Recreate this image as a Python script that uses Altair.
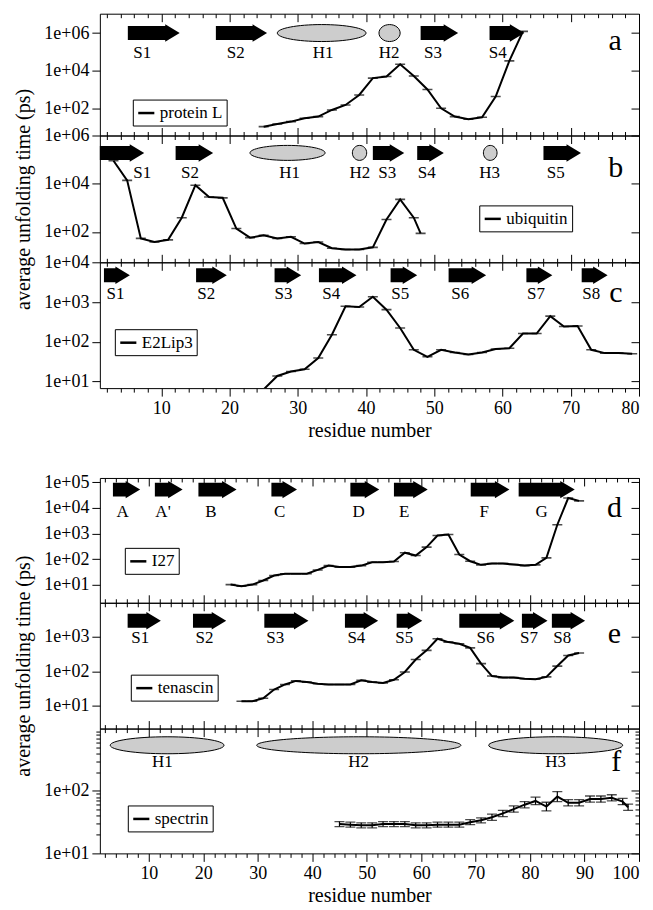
import altair as alt
import pandas as pd

FONT = "Liberation Serif"
W = 540

# ---------------- series data (residue number, average unfolding time in ps) ----------------
protL_x = [25, 27, 29, 31, 33, 35, 37, 39, 41, 43, 45, 47, 49, 51, 53, 55, 57, 59, 61, 63]
protL_y = [10.5, 14.5, 19.5, 29.5, 36, 81, 150, 510, 4000, 4900, 22000, 5200, 1000, 100,
           36, 26, 33, 420, 33000, 1230000]

ubq_x = [3, 5, 7, 9, 11, 13, 15, 17, 19, 21, 23, 25, 27, 29, 31, 33, 35, 37, 39, 41, 43, 45, 47, 48]
ubq_y = [90000, 13800, 54, 38, 47, 390, 8700, 2800, 2600, 138, 58, 72, 54, 63, 33, 38, 21,
         18.6, 18.6, 23, 330, 2240, 390, 87]

e2_x = [25, 27, 29, 31, 33, 35, 37, 39, 41, 43, 45, 47, 49, 51, 53, 55, 57, 59, 61, 63, 65,
        67, 69, 71, 73, 75, 77, 79]
e2_y = [6.3, 13.8, 17.8, 20.4, 39, 151, 790, 760, 1380, 650, 224, 63, 42, 63, 54, 48, 54, 66,
        69, 162, 162, 447, 245, 251, 63, 52, 52, 50]

i27_x = [25, 27, 29, 31, 33, 35, 37, 39, 41, 43, 45, 47, 49, 51, 53, 55, 57, 59, 61, 63, 65,
         67, 69, 71, 73, 75, 77, 79, 81, 83, 85, 87, 89]
i27_y = [10.2, 8.9, 10.2, 14.8, 23, 27, 27, 27, 38, 56, 49, 49, 56, 76, 76, 81, 178, 138, 295,
         830, 910, 151, 83, 60, 68, 68, 62, 56, 60, 112, 2190, 24000, 18600]

ten_x = [27, 29, 31, 33, 35, 37, 39, 41, 43, 45, 47, 49, 51, 53, 55, 57, 59, 61, 63, 65, 67,
         69, 71, 73, 75, 77, 79, 81, 83, 85, 87, 89]
ten_y = [13.2, 13.2, 16.2, 29, 41, 52, 48, 43, 41, 41, 41, 54, 48, 45, 56, 95, 219, 407, 891,
         708, 631, 479, 166, 72, 65, 65, 60, 58, 68, 141, 288, 339]

spec_x = [45, 47, 49, 51, 53, 55, 57, 59, 61, 63, 65, 67, 69, 71, 73, 75, 77, 79, 81, 83, 85,
          87, 89, 91, 93, 95, 97, 98]
spec_y = [29.5, 28.8, 28.2, 28.2, 29.5, 29.5, 29.5, 28.2, 28.2, 28.8, 28.8, 28.8, 31.6, 33.9,
          38, 43.7, 51.3, 60.3, 69.2, 56.2, 81.3, 64.6, 64.6, 74.1, 74.1, 77.6, 67.6, 55]
# half width of the spectrin error bars, in decades
spec_err = [0.04, 0.04, 0.04, 0.04, 0.04, 0.04, 0.04, 0.04, 0.04, 0.04, 0.04, 0.04, 0.04, 0.04,
            0.05, 0.05, 0.05, 0.05, 0.06, 0.07, 0.08, 0.05, 0.05, 0.05, 0.05, 0.05, 0.05, 0.05]

# ---------------- secondary structure (residue ranges) ----------------
a_ss_kind = ["arrow", "arrow", "helix", "helix", "arrow", "arrow"]
a_ss_name = ["S1", "S2", "H1", "H2", "S3", "S4"]
a_ss_start = [5.1, 18.0, 27.0, 41.9, 48.0, 58.1]
a_ss_end = [12.7, 25.5, 40.0, 45.0, 53.5, 63.2]
a_ss_label = [7.2, 20.9, 33.7, 43.4, 49.8, 59.3]

b_ss_kind = ["arrow", "arrow", "helix", "helix", "arrow", "arrow", "helix", "arrow"]
b_ss_name = ["S1", "S2", "H1", "H2", "S3", "S4", "H3", "S5"]
b_ss_start = [1.0, 12.1, 23.0, 38.0, 41.0, 47.5, 57.2, 66.0]
b_ss_end = [7.5, 17.6, 34.0, 40.1, 45.6, 51.4, 59.2, 71.5]
b_ss_label = [7.2, 14.2, 28.8, 39.1, 43.1, 48.9, 58.1, 67.8]

c_ss_kind = ["arrow"] * 8
c_ss_name = ["S1", "S2", "S3", "S4", "S5", "S6", "S7", "S8"]
c_ss_start = [1.6, 15.1, 26.6, 33.1, 43.6, 52.1, 63.5, 71.6]
c_ss_end = [5.4, 19.6, 30.5, 38.6, 47.5, 57.6, 67.3, 75.4]
c_ss_label = [3.3, 16.6, 27.9, 34.9, 45.0, 53.8, 64.9, 73.0]

d_ss_kind = ["arrow"] * 8
d_ss_name = ["A", "A'", "B", "C", "D", "E", "F", "G"]
d_ss_start = [3.4, 11.1, 19.1, 32.5, 47.0, 55.0, 69.1, 77.9]
d_ss_end = [8.4, 16.2, 26.1, 37.2, 52.3, 61.2, 76.2, 88.2]
d_ss_label = [5.2, 12.6, 21.4, 34.0, 48.5, 56.9, 71.6, 82.1]

e_ss_kind = ["arrow"] * 8
e_ss_name = ["S1", "S2", "S3", "S4", "S5", "S6", "S7", "S8"]
e_ss_start = [6.1, 18.1, 31.2, 46.0, 55.5, 67.0, 78.5, 84.0]
e_ss_end = [12.2, 24.2, 39.3, 52.1, 60.2, 77.1, 83.2, 90.1]
e_ss_label = [8.4, 20.2, 33.2, 48.1, 56.9, 71.8, 79.8, 85.9]

f_ss_kind = ["helix", "helix", "helix"]
f_ss_name = ["H1", "H2", "H3"]
f_ss_start = [2.9, 29.8, 72.4]
f_ss_end = [23.8, 67.3, 97.0]
f_ss_label = [12.5, 48.5, 84.7]

series_names = ["protein L", "ubiquitin", "E2Lip3", "I27", "tenascin", "spectrin"]
panel_letters = ["a", "b", "c", "d", "e", "f"]

top_major = [10, 20, 30, 40, 50, 60, 70, 80]
top_minor = [v for v in range(2, 81, 2) if v % 10]
bot_major = [10, 20, 30, 40, 50, 60, 70, 80, 90, 100]
bot_minor = [v for v in range(2, 101, 2) if v % 10]

LABEL_EXPR = "'1e+' + format(round(log(datum.value) / LN10), '02d')"
K = 0.5523


def arrow_path(wpx):
    u = wpx / 2.0
    b = 7.0 / u
    h = 8.75 / u
    hl = min(14.5 / u, 1.5)
    xs = 1 - hl
    return (f"M -1 {-b:.4f} L {xs:.4f} {-b:.4f} L {xs:.4f} {-h:.4f} L 1 0 "
            f"L {xs:.4f} {h:.4f} L {xs:.4f} {b:.4f} L -1 {b:.4f} Z")


def ellipse_path(wpx, hpx):
    u = wpx / 2.0
    r = (hpx / 2.0) / u
    k = K
    return (f"M -1 0 C -1 {-k*r:.4f} {-k:.4f} {-r:.4f} 0 {-r:.4f} "
            f"C {k:.4f} {-r:.4f} 1 {-k*r:.4f} 1 0 "
            f"C 1 {k*r:.4f} {k:.4f} {r:.4f} 0 {r:.4f} "
            f"C {-k:.4f} {r:.4f} -1 {k*r:.4f} -1 0 Z")


def ax(**kw):
    base = dict(grid=False, domain=False, tickColor="black", tickWidth=1,
                labelColor="black", labelFont=FONT, labelFontSize=18,
                titleFont=FONT, titleFontSize=20, titleColor="black",
                titleFontWeight="normal")
    base.update(kw)
    return alt.Axis(**base)


def make_panel(p):
    xsc = alt.Scale(domain=p["xdom"], nice=False, zero=False)
    ysc = alt.Scale(type="log", domain=p["ydom"], nice=False)
    ppu = W / (p["xdom"][1] - p["xdom"][0])
    df = pd.DataFrame({"x": p["x"], "y": p["y"], "series": p["name"]})
    major, minor = p["major"], p["minor"]

    def X(axis):
        return alt.X("x:Q", scale=xsc, axis=axis)

    def Y(axis, field="y:Q"):
        return alt.Y(field, scale=ysc, axis=axis)

    last = p["last"]
    xb_major = ax(orient="bottom", values=major, tickSize=8, labels=last, format="d",
                  labelPadding=3, title=("residue number" if last else None), titlePadding=3)
    xb_minor = ax(orient="bottom", values=minor, tickSize=4, labels=False, title=None)
    if p["first"]:
        xt_major = ax(orient="top", values=major, tickSize=alt.ExprRef(expr="-8"), labels=False, title=None)
        xt_minor = ax(orient="top", values=minor, tickSize=alt.ExprRef(expr="-4"), labels=False, title=None)
    else:
        xt_major = ax(orient="top", values=major, tickSize=8, labels=False, title=None)
        xt_minor = ax(orient="top", values=minor, tickSize=4, labels=False, title=None)
    yl = ax(orient="left", values=p["yticks"], tickSize=8, labelExpr=LABEL_EXPR,
            labelPadding=3, title=p.get("ytitle"), titlePadding=10)
    yr = ax(orient="right", values=p["yticks"], tickSize=alt.ExprRef(expr="-8"), labels=False, title=None)

    layers = []
    layers.append(alt.Chart(df).mark_point(opacity=0, clip=True).encode(x=X(xb_major), y=Y(yl)))
    layers.append(alt.Chart(df).mark_point(opacity=0, clip=True).encode(x=X(xb_minor), y=Y(yr)))
    if p.get("yminor"):
        yl2 = ax(orient="left", values=p["yminor"], tickSize=4, labels=False, title=None)
        yr2 = ax(orient="right", values=p["yminor"], tickSize=alt.ExprRef(expr="-4"), labels=False, title=None)
        layers.append(alt.Chart(df).mark_point(opacity=0, clip=True).encode(x=X(xt_major), y=Y(yl2)))
        layers.append(alt.Chart(df).mark_point(opacity=0, clip=True).encode(x=X(xt_minor), y=Y(yr2)))
    else:
        layers.append(alt.Chart(df).mark_point(opacity=0, clip=True).encode(x=X(xt_major), y=Y(None)))
        layers.append(alt.Chart(df).mark_point(opacity=0, clip=True).encode(x=X(xt_minor), y=Y(None)))

    # error bars (spectrin)
    if p.get("err"):
        edf = df.copy()
        edf["lo"] = [v / 10 ** e for v, e in zip(p["y"], p["err"])]
        edf["hi"] = [v * 10 ** e for v, e in zip(p["y"], p["err"])]
        layers.append(alt.Chart(edf).mark_rule(color="black", strokeWidth=1.2, clip=True).encode(
            x=X(None), y=Y(None, "lo:Q"), y2="hi:Q"))
        layers.append(alt.Chart(edf).mark_tick(orient="horizontal", color="black", thickness=1.3,
                                               size=10, clip=True).encode(x=X(None), y=Y(None, "lo:Q")))
        layers.append(alt.Chart(edf).mark_tick(orient="horizontal", color="black", thickness=1.3,
                                               size=10, clip=True).encode(x=X(None), y=Y(None, "hi:Q")))

    legend = alt.Legend(orient="none", legendX=p["leg"][0], legendY=p["leg"][1], title=None,
                        strokeColor="black", fillColor="white", padding=4, cornerRadius=0,
                        symbolType="stroke", symbolStrokeWidth=2.5, symbolSize=260,
                        symbolStrokeColor="black", labelFont=FONT, labelFontSize=17,
                        labelColor="black", labelOffset=4)
    layers.append(alt.Chart(df).mark_line(strokeWidth=2, clip=True).encode(
        x=X(None), y=Y(None),
        color=alt.Color("series:N", scale=alt.Scale(range=["black"]), legend=legend)))
    if not p.get("err"):
        layers.append(alt.Chart(df).mark_tick(orient="horizontal", color="black", thickness=1.6,
                                              size=10, clip=True).encode(x=X(None), y=Y(None)))

    ss = pd.DataFrame({"kind": p["ss"][0], "name": p["ss"][1], "x1": p["ss"][2],
                       "x2": p["ss"][3], "lbl": p["ss"][4]})
    ss["cx"] = (ss["x1"] + ss["x2"]) / 2
    ss["level"] = p["level"]
    ss["wpx"] = (ss["x2"] - ss["x1"]) * ppu
    ss["size"] = ss["wpx"] ** 2
    arrows = ss[ss["kind"] == "arrow"].copy()
    helices = ss[ss["kind"] == "helix"].copy()
    if len(arrows):
        arrows["path"] = [arrow_path(w) for w in arrows["wpx"]]
        layers.append(alt.Chart(arrows).mark_point(filled=True, color="black", opacity=1,
                                                   strokeWidth=0).encode(
            x=alt.X("cx:Q", scale=xsc, axis=None), y=alt.Y("level:Q", scale=ysc, axis=None),
            shape=alt.Shape("path:N", scale=None), size=alt.Size("size:Q", scale=None)))
    if len(helices):
        helices["path"] = [ellipse_path(w, p["ellh"]) for w in helices["wpx"]]
        layers.append(alt.Chart(helices).mark_point(filled=True, fill="#cdcdcd", stroke="black",
                                                    strokeWidth=1, opacity=1).encode(
            x=alt.X("cx:Q", scale=xsc, axis=None), y=alt.Y("level:Q", scale=ysc, axis=None),
            shape=alt.Shape("path:N", scale=None), size=alt.Size("size:Q", scale=None)))
    layers.append(alt.Chart(ss).mark_text(font=FONT, fontSize=17, baseline="middle",
                                          dy=p["lbl_dy"], color="black").encode(
        x=alt.X("lbl:Q", scale=xsc, axis=None), y=alt.Y("level:Q", scale=ysc, axis=None),
        text="name:N"))
    ldf = pd.DataFrame({"lx": [p["letter_xy"][0]], "ly": [p["letter_xy"][1]], "t": [p["letter"]]})
    layers.append(alt.Chart(ldf).mark_text(font=FONT, fontSize=30, baseline="middle",
                                           color="black").encode(
        x=alt.X("lx:Q", scale=xsc, axis=None), y=alt.Y("ly:Q", scale=ysc, axis=None), text="t:N"))

    return alt.layer(*layers).resolve_axis(x="independent", y="independent").properties(
        width=W, height=p["h"])


panels = [
    dict(name=series_names[0], letter="a", x=protL_x, y=protL_y, xdom=[1, 80], ydom=[3.55, 1.07e7],
         yticks=[1e2, 1e4, 1e6], h=122, first=True, last=False, major=top_major, minor=top_minor,
         ss=(a_ss_kind, a_ss_name, a_ss_start, a_ss_end, a_ss_label), level=1e6, lbl_dy=20,
         ellh=17, letter_xy=(76.5, 3.6e5), leg=(33, 86)),
    dict(name=series_names[1], letter="b", x=ubq_x, y=ubq_y, xdom=[1, 80], ydom=[5.5, 1e6],
         yticks=[1e2, 1e4, 1e6], h=127, first=False, last=False, major=top_major, minor=top_minor,
         ss=(b_ss_kind, b_ss_name, b_ss_start, b_ss_end, b_ss_label), level=1.9e5, lbl_dy=20,
         ellh=15, letter_xy=(76.6, 4.4e4), leg=(380, 70), ytitle="average unfolding time (ps)"),
    dict(name=series_names[2], letter="c", x=e2_x, y=e2_y, xdom=[1, 80], ydom=[6.8, 1.02e4],
         yticks=[1e1, 1e2, 1e3, 1e4], h=126, first=False, last=True, major=top_major, minor=top_minor,
         ss=(c_ss_kind, c_ss_name, c_ss_start, c_ss_end, c_ss_label), level=4.8e3, lbl_dy=19,
         ellh=15, letter_xy=(76.6, 1740), leg=(15, 67)),
    dict(name=series_names[3], letter="d", x=i27_x, y=i27_y, xdom=[1, 100], ydom=[2.0, 1.45e5],
         yticks=[1e1, 1e2, 1e3, 1e4, 1e5], h=125, first=True, last=False, major=bot_major, minor=bot_minor,
         ss=(d_ss_kind, d_ss_name, d_ss_start, d_ss_end, d_ss_label), level=5.1e4, lbl_dy=22,
         ellh=15, letter_xy=(95.5, 9800), leg=(25, 70)),
    dict(name=series_names[4], letter="e", x=ten_x, y=ten_y, xdom=[1, 100], ydom=[2.1, 1e4],
         yticks=[1e1, 1e2, 1e3], h=126, first=False, last=False, major=bot_major, minor=bot_minor,
         ss=(e_ss_kind, e_ss_name, e_ss_start, e_ss_end, e_ss_label), level=3.0e3, lbl_dy=17,
         ellh=15, letter_xy=(95.5, 1260), leg=(31, 72), ytitle="average unfolding time (ps)"),
    dict(name=series_names[5], letter="f", x=spec_x, y=spec_y, err=spec_err, xdom=[1, 100],
         ydom=[10, 1000], yticks=[1e1, 1e2], yminor=[20, 30, 40, 50, 60, 70, 80, 90, 200, 300, 400,
                                                   500, 600, 700, 800, 900],
         h=125, first=False, last=True, major=bot_major, minor=bot_minor,
         ss=(f_ss_kind, f_ss_name, f_ss_start, f_ss_end, f_ss_label), level=540, lbl_dy=17,
         ellh=17, letter_xy=(95.8, 290), leg=(28, 77)),
]

charts = [make_panel(p) for p in panels]

spacer = alt.Chart(pd.DataFrame({"v": [0]})).mark_point(opacity=0).encode(
    x=alt.X("v:Q", axis=None), y=alt.Y("v:Q", axis=None)
).properties(width=W, height=90, view=alt.ViewBackground(stroke="transparent"))

chart = alt.vconcat(charts[0], charts[1], charts[2], spacer, charts[3], charts[4], charts[5],
                    spacing=0, bounds="flush").resolve_scale(color="independent").resolve_legend(
    color="independent").configure_view(stroke="black", strokeWidth=1).properties(
    padding={"left": 5, "top": 4, "right": 5, "bottom": 2}, background="white")

chart.save("out.html", embed_options={"renderer": "svg", "actions": False})
